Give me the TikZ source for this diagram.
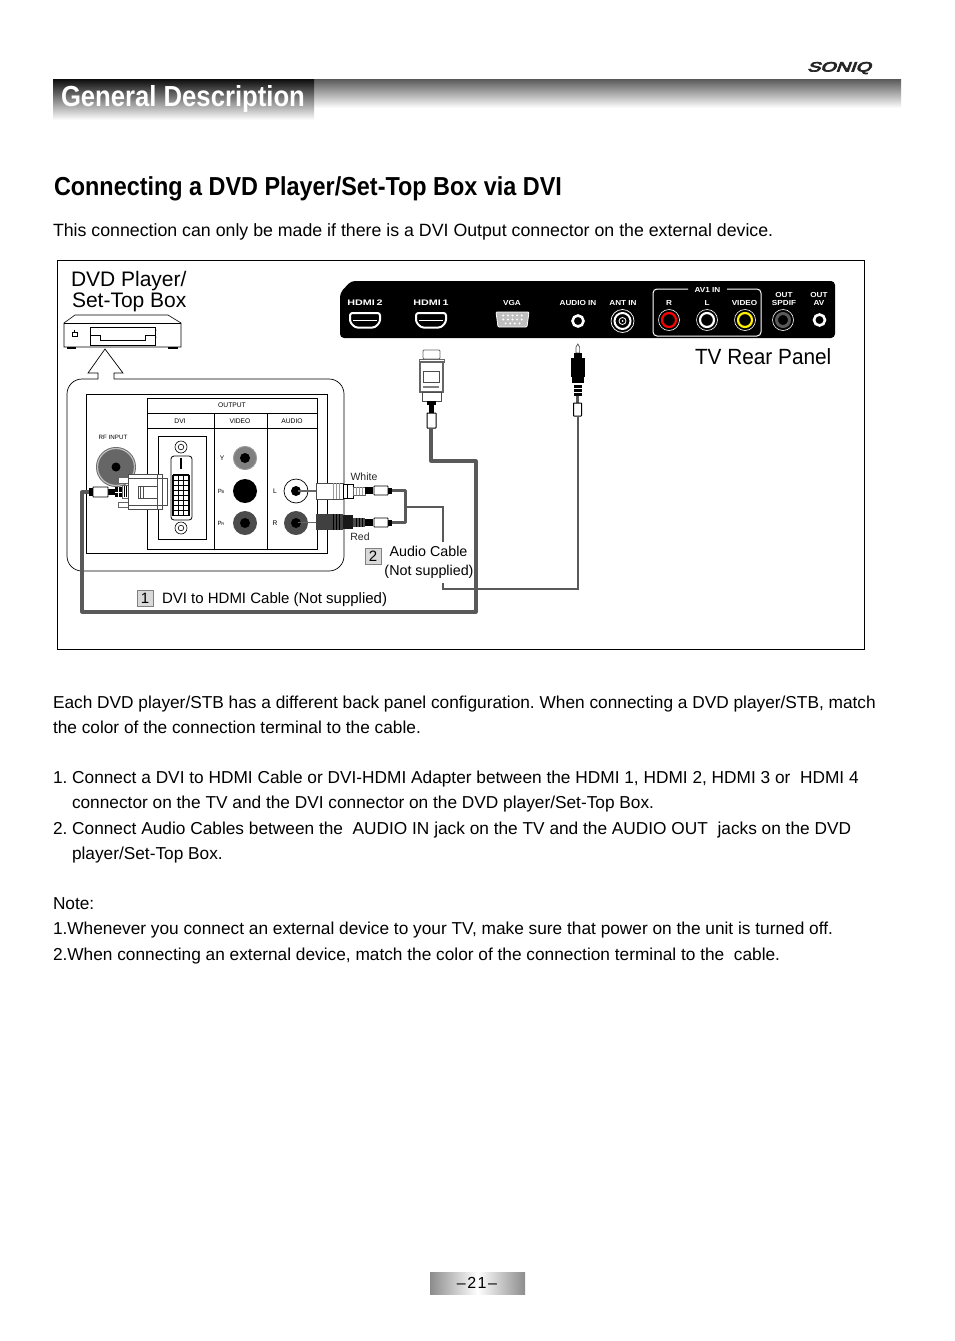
\documentclass[tikz,border=0pt]{standalone}
\usepackage{fontspec}
\setmainfont{Liberation Sans}
\newfontfamily\logofont[FakeBold=5,FakeSlant=.25]{Liberation Sans}
\usetikzlibrary{calc}
\definecolor{cablegray}{HTML}{595959}
\definecolor{boxgray}{HTML}{D9D9D9}
\tikzset{
  txt/.style={inner sep=0pt,outer sep=0pt,text=black},
  body/.style={txt,anchor=base west,font=\fontsize{17.28}{20}\selectfont},
  panellabel/.style={txt,text=white,font=\fontsize{7.3}{8}\bfseries\selectfont,anchor=center,xscale=1.12},
  tiny/.style={txt,font=\fontsize{6.7}{8}\selectfont,anchor=center},
  numbox/.style={draw=gray,fill=boxgray,line width=.6pt,minimum width=16pt,minimum height=16pt,inner sep=0pt,font=\fontsize{15}{16}\selectfont},
  cablethick/.style={draw=cablegray,line width=3.2pt,line join=round},
  cablethin/.style={draw=cablegray,line width=2pt,line join=miter},
}
\newcommand{\rcajack}[4]{%
  \fill[#3] (#1,#2) circle (12);
  \fill[#4] (#1,#2) circle (5);
}
\newcommand{\tvring}[3]{%
  \draw[white,line width=.6pt] (#1,#2) circle (10.5);
  \draw[#3,line width=2.2pt] (#1,#2) circle (7);
}
\newcommand{\hdmiport}[2]{%
  \draw[white,line width=2pt,fill=black,rounded corners=2.5pt]
    ($(#1,#2)+(-15,-7)$) -- ($(#1,#2)+(15,-7)$) -- ($(#1,#2)+(15,2)$) -- ($(#1,#2)+(10,7.5)$)
    -- ($(#1,#2)+(-10,7.5)$) -- ($(#1,#2)+(-15,2)$) -- cycle;
  \draw[white,line width=.7pt] ($(#1,#2)+(-12,.5)$) -- ($(#1,#2)+(12,.5)$);
}
\begin{document}
\frenchspacing
\begin{tikzpicture}[x=1pt,y=-1pt]
\useasboundingbox (0,0) rectangle (954,1341);
\fill[white] (0,0) rectangle (954,1341);

% header
\shade[top color=black!65,bottom color=white] (53,79) rectangle (901,108);
\shade[top color=black!95,bottom color=white] (53,79) rectangle (314,120);
\node[txt,text=white,anchor=base west,font=\fontsize{29}{30}\bfseries\selectfont,xscale=.885] (title) at (61,106) {General Description};
\node[txt,text=black!85,anchor=base west,font=\fontsize{15}{16}\logofont\selectfont,xscale=1.32,yscale=.9] (soniq) at (807,71.5) {SONIQ};
\node[txt,anchor=base west,font=\fontsize{26}{28}\bfseries\selectfont,xscale=.9] (head) at (54,195) {Connecting a DVD Player/Set-Top Box via DVI};
\node[body,font=\fontsize{17.75}{20}\selectfont] (intro) at (53,236) {This connection can only be made if there is a DVI Output connector on the external device.};

% diagram frame
\draw[black,line width=.8pt] (57,260) rectangle (864,649.5);
\node[txt,anchor=base west,font=\fontsize{21}{22}\selectfont] (dvdA) at (71,286) {DVD Player/};
\node[txt,anchor=base west,font=\fontsize{21}{22}\selectfont] (dvdB) at (72,307) {Set-Top Box};

% DVD player
\draw[line width=.6pt,fill=white] (64,323) -- (75,315) -- (168,315) -- (181,323) -- (181,347) -- (64,347) -- cycle;
\draw[line width=.6pt] (64,323) -- (181,323);
\draw[line width=1.1pt] (67,348) -- (76,348) (168,348) -- (178,348);
\draw[line width=.6pt] (90,327) rectangle (155,345);
\draw[line width=.6pt] (90,335) -- (100,335) -- (100,340) -- (145,340) -- (145,335) -- (155,335);
\draw[line width=.5pt] (72,332) rectangle (77,336);
\draw[line width=.5pt] (74.5,330) -- (74.5,332);
\fill (156,330) circle (.5) (156,337) circle (.5);

% TV panel
\path[fill=black,rounded corners=4pt] (340,293) -- (351,281) -- (835,281) -- (835,338) -- (340,338) -- cycle;
\node[panellabel,font=\fontsize{8}{8}\bfseries\selectfont,xscale=1.2] (lh2) at (365,303) {HDMI\,2};
\node[panellabel,font=\fontsize{8}{8}\bfseries\selectfont,xscale=1.2] (lh1) at (431,303) {HDMI\,1};
\node[panellabel] (lvga) at (512,303) {VGA};
\node[panellabel] (laud) at (578,303) {AUDIO IN};
\node[panellabel] (lant) at (623,303) {ANT IN};
\hdmiport{365}{320}
\hdmiport{431}{320}
\draw[white,line width=.8pt,fill=black!25,rounded corners=1pt] (496,312) -- (529,312) -- (527,327) -- (498,327) -- cycle;
\foreach \r/\n in {315.5/5,319.5/5,323.5/4}{
  \foreach \i in {1,...,\n}{\fill[white] ({512.5+(\i-(\n+1)/2)*4.6},\r) circle (1.1);}
}
\draw[white,line width=2.6pt] (578,321) circle (5.5);
\draw[white,line width=.7pt] (622.5,321) circle (11.5);
\draw[white,line width=2pt] (622.5,321) circle (8);
\draw[white,line width=.8pt] (622.5,321) circle (3.5);
\fill[white] (622.5,321) circle (1);
% AV1 box
\draw[white,line width=1pt,rounded corners=4pt] (688,289) -- (653,289) -- (653,336) -- (761,336) -- (761,289) -- (727,289);
\node[panellabel] (lav) at (707.5,289.5) {AV1 IN};
\node[panellabel] (lr) at (669,303) {R};
\node[panellabel] (ll) at (707,303) {L};
\node[panellabel] (lv) at (744.5,303) {VIDEO};
\tvring{669}{320}{red}
\tvring{707}{320}{white}
\tvring{745}{320}{yellow}
\draw[white,line width=.6pt] (783,320) circle (10.5);
\draw[black!65,line width=3pt] (783,320) circle (6.5);
\node[panellabel] (los) at (784,294.5) {OUT};
\node[panellabel] (lsp) at (784,303) {SPDIF};
\node[panellabel] (loa) at (819,294.5) {OUT};
\node[panellabel] (lavv) at (819,303) {AV};
\draw[white,line width=2.6pt] (819.5,320) circle (5.5);
\node[txt,anchor=base west,font=\fontsize{22}{24}\selectfont,xscale=.945] (tvrear) at (695,364) {TV Rear Panel};

% Inset with arrow
\draw[black,line width=.7pt,fill=white,rounded corners=15pt]
  (98,379) -- (67,379) -- (67,571) -- (344,571) -- (344,379) -- (114,379);
\draw[black,line width=.7pt,line join=miter] (98,379) -- (98,373) -- (88,373) -- (105,349) -- (123,373) -- (114,373) -- (114,379);
\draw[black,line width=.9pt] (86,394) rectangle (327,553);
\draw[black,line width=.9pt] (147,398) rectangle (317,549);
\draw[black,line width=.8pt] (147,413) -- (317,413) (147,428) -- (317,428) (214,413) -- (214,549) (267,413) -- (267,549);
\node[tiny] (out) at (232,405.5) {OUTPUT};
\node[tiny] (tdvi) at (180,421) {DVI};
\node[tiny] (tvid) at (240,421) {VIDEO};
\node[tiny] (taud) at (292,421) {AUDIO};
\node[tiny,font=\fontsize{6.2}{7}\selectfont] (rf) at (113,437) {RF INPUT};
\node[tiny] (ty) at (222,458.5) {Y};
\node[tiny,font=\fontsize{6}{7}\selectfont] (tpb) at (221,491.5) {P\kern-.3pt\raisebox{-.5pt}{\fontsize{4}{4}\selectfont B}};
\node[tiny,font=\fontsize{6}{7}\selectfont] (tpr) at (221,523.5) {P\kern-.3pt\raisebox{-.5pt}{\fontsize{4}{4}\selectfont R}};
\node[tiny] (tl) at (275,491) {L};
\node[tiny] (tr) at (275,523) {R};
% RF jack
\fill[black!60] (116,467) circle (20);
\draw[black!25,line width=1.2pt] (116,467) circle (18.5);
\fill[black] (116,467) circle (4.5);
% DVI port
\draw[line width=.9pt] (158,436) rectangle (206,539);
\foreach \y in {447,528}{\draw[line width=.6pt] (181,\y) circle (6); \draw[line width=.6pt] (181,\y) circle (2.8);}
\draw[line width=.8pt,rounded corners=3pt] (171,456) rectangle (192,520);
\draw[line width=1.6pt] (181,458) -- (181,469);
\foreach \r in {0,...,8}{\draw[line width=1.2pt] (173,{475+\r*5.1}) -- (189,{475+\r*5.1});}
\foreach \c in {0,...,3}{\draw[line width=1.2pt] ({173+\c*5.33},475) -- ({173+\c*5.33},516);}
% Video / audio jacks
\rcajack{245}{458}{black!50}{black}
\draw[black!35,line width=.5pt] (245,458) circle (11.5);
\rcajack{245}{491}{black}{black}
\rcajack{245}{523}{black!70}{black}
\draw[black,line width=.7pt,fill=white] (296,491) circle (12);
\fill (296,491) circle (5);
\rcajack{296}{523}{black!70}{black}

% DVI plug
\draw[black!60,line width=.7pt,fill=white] (118,477) rectangle (128,483);
\draw[black!60,line width=.7pt,fill=white] (118,502) rectangle (128,507);
\draw[black!60,line width=.7pt,fill=white] (122,485) rectangle (128,498);
\foreach \x in {124,126}{\draw[black,line width=.5pt] (\x,486) -- (\x,497);}
\draw[black!70,line width=.7pt,fill=white] (162,478) rectangle (167,505);
\draw[black!70,line width=.9pt,fill=white] (128,474) rectangle (162,509);
\draw[black!70,line width=.6pt] (128,478) -- (162,478) (128,505) -- (162,505) (157,474) -- (157,509);
\draw[black!70,line width=.7pt] (138,486) rectangle (157,498) (143,486) -- (143,498) (140.5,486) -- (140.5,498);
\fill[black] (115,487) rectangle (122,497);
\draw[white,line width=1pt] (118.5,487) -- (118.5,497);
\draw[white,line width=1pt] (115,492) -- (122,492);
\fill[black] (108,489) rectangle (115,495);
\draw[black,line width=.9pt,fill=white,rounded corners=.5pt] (93,487) rectangle (108,497);
\fill[black] (89,488) rectangle (93,496);
\coordinate (dviend) at (89,492);

% HDMI plug
\draw[black!60,line width=.8pt,fill=white,rounded corners=1pt] (423,350) rectangle (440,359);
\draw[black!60,line width=.8pt,fill=white] (419,359) rectangle (444,362);
\draw[black!60,line width=1.2pt,fill=white] (420,362) rectangle (443,392);
\draw[black!70,line width=.7pt] (423,371) rectangle (439,382);
\draw[black!50,line width=1.2pt] (423,387) -- (439,387);
\draw[black!70,line width=.8pt,fill=white] (422,392) rectangle (441,401);
\fill[black] (427,401) rectangle (436,405);
\fill[black] (429,405) rectangle (434,413);
\draw[black,line width=1pt,fill=white,rounded corners=.5pt] (427,413) rectangle (436,428);
\coordinate (hdmiend) at (431,428);

% Audio-in plug
\draw[black!70,line width=.7pt,fill=white] (576,353) -- (576,347) -- (577.8,344) -- (579.6,347) -- (579.6,353) -- cycle;
\fill[black] (574,353) rectangle (582,358);
\fill[black] (571,358) rectangle (585,377);
\fill[black] (572,377) rectangle (584,383);
\foreach \y in {385,389,393}{\fill[black] (574,\y) rectangle (582,{\y+2.5});}
\fill[cablegray] (576,396) rectangle (579,403);
\draw[black,line width=1pt,fill=white,rounded corners=.5pt] (573.5,403) rectangle (581.5,416);
\coordinate (auxend) at (577.5,416);

% RCA plugs at the source
\draw[black!60,line width=1.6pt] (298,491) -- (318,491);
\draw[black!60,line width=1.6pt] (298,522.5) -- (318,522.5);
% white plug
\draw[black!70,line width=.8pt,fill=white] (316,483) rectangle (343,499);
\draw[black!40,line width=.5pt] (333,483) -- (333,499) (336,483) -- (336,499) (339,483) -- (339,499);
\draw[black,line width=.8pt,fill=white] (343,484) rectangle (353,498);
\draw[black,line width=.6pt] (347,484) -- (347,498);
\draw[black!60,line width=.6pt,fill=white] (353,487) rectangle (365,495);
\foreach \x in {356,359,362}{\draw[black!40,line width=.5pt] (\x,487) -- (\x,495);}
\fill[black] (365,487) rectangle (373,494);
\draw[black,line width=.9pt,fill=white,rounded corners=.5pt] (374,486) rectangle (388,495);
\fill[black] (388,487.5) rectangle (392,493.5);
\coordinate (whiteend) at (392,490.5);
% red plug
\fill[black!75] (316,514) rectangle (343,530);
\draw[black,line width=.6pt] (333,514) -- (333,530) (336,514) -- (336,530) (339,514) -- (339,530);
\fill[black!90] (343,515) rectangle (353,529);
\fill[black!70] (353,518) rectangle (365,527);
\foreach \x in {356,359,362}{\draw[black,line width=.5pt] (\x,518) -- (\x,527);}
\fill[black] (365,519) rectangle (373,526);
\draw[black,line width=.9pt,fill=white,rounded corners=.5pt] (374,518) rectangle (388,527);
\fill[black] (388,519.5) rectangle (392,525.5);
\coordinate (redend) at (392,522.5);

% Cables
\coordinate (hc1) at (431,461);
\coordinate (hc2) at (476,461);
\coordinate (hc3) at (476,612);
\coordinate (hc4) at (82,612);
\coordinate (hc5) at (82,492);
\path[cablethick] (hdmiend) -- (hc1) -- (hc2) -- (hc3) -- (hc4) -- (hc5) -- (dviend);
\coordinate (ac1) at (405.5,490.5);
\coordinate (ac2) at (405.5,522.5);
\path[cablethick] (whiteend) -- (ac1) -- (ac2) -- (redend);
\coordinate (aj) at (405.5,507);
\coordinate (aa1) at (443,507);
\coordinate (aa2) at (443,542);
\coordinate (aa3) at (443,583);
\coordinate (aa4) at (443,588.5);
\coordinate (aa5) at (577.5,588.5);
\path[cablethin] (aj) -- (aa1) -- (aa2);
\path[cablethin] (aa3) -- (aa4) -- (aa5) -- (auxend);

% Labels
\node[txt,font=\fontsize{10.5}{12}\selectfont,text=black!85] (white) at (364,477) {White};
\node[txt,font=\fontsize{10.5}{12}\selectfont,text=black!85] (red) at (360,537) {Red};
\node[numbox] (n2) at (373,556) {2};
\node[txt,font=\fontsize{14.3}{16}\selectfont] (ac) at (428.5,551.5) {Audio Cable};
\node[txt,font=\fontsize{14.3}{16}\selectfont] (ns) at (429,572) {(Not supplied)};
\node[numbox] (n1) at (145,598) {1};
\node[txt,anchor=base west,font=\fontsize{15}{16}\selectfont] (dh) at (162,603) {DVI to HDMI Cable (Not supplied)};

% Body text
\node[body] (b1) at (53,708) {Each DVD player/STB has a different back panel configuration. When connecting a DVD player/STB, match};
\node[body] (b2) at (53,733) {the color of the connection terminal to the cable.};
\node[body] (b3) at (53,783) {1. Connect a DVI to HDMI Cable or DVI-HDMI Adapter between the HDMI 1, HDMI 2, HDMI 3 or\ \ HDMI 4};
\node[body] (b4) at (72,808) {connector on the TV and the DVI connector on the DVD player/Set-Top Box.};
\node[body] (b5) at (53,834) {2. Connect Audio Cables between the\ \ AUDIO IN jack on the TV and the AUDIO OUT\ \ jacks on the DVD};
\node[body] (b6) at (72,859) {player/Set-Top Box.};
\node[body] (b7) at (53,909) {Note:};
\node[body] (b8) at (53,934) {1.Whenever you connect an external device to your TV, make sure that power on the unit is turned off.};
\node[body] (b9) at (53,960) {2.When connecting an external device, match the color of the connection terminal to the\ \ cable.};

% Page number
\shade[left color=black!45,right color=white] (430,1272) rectangle (477.5,1294);
\shade[left color=white,right color=black!45] (477.5,1272) rectangle (525,1294);
\node[txt,font=\fontsize{16}{18}\selectfont] (pg) at (477,1282.5) {–\kern1.5pt 2\kern1.5pt 1\kern1.5pt –};
\end{tikzpicture}
\end{document}
